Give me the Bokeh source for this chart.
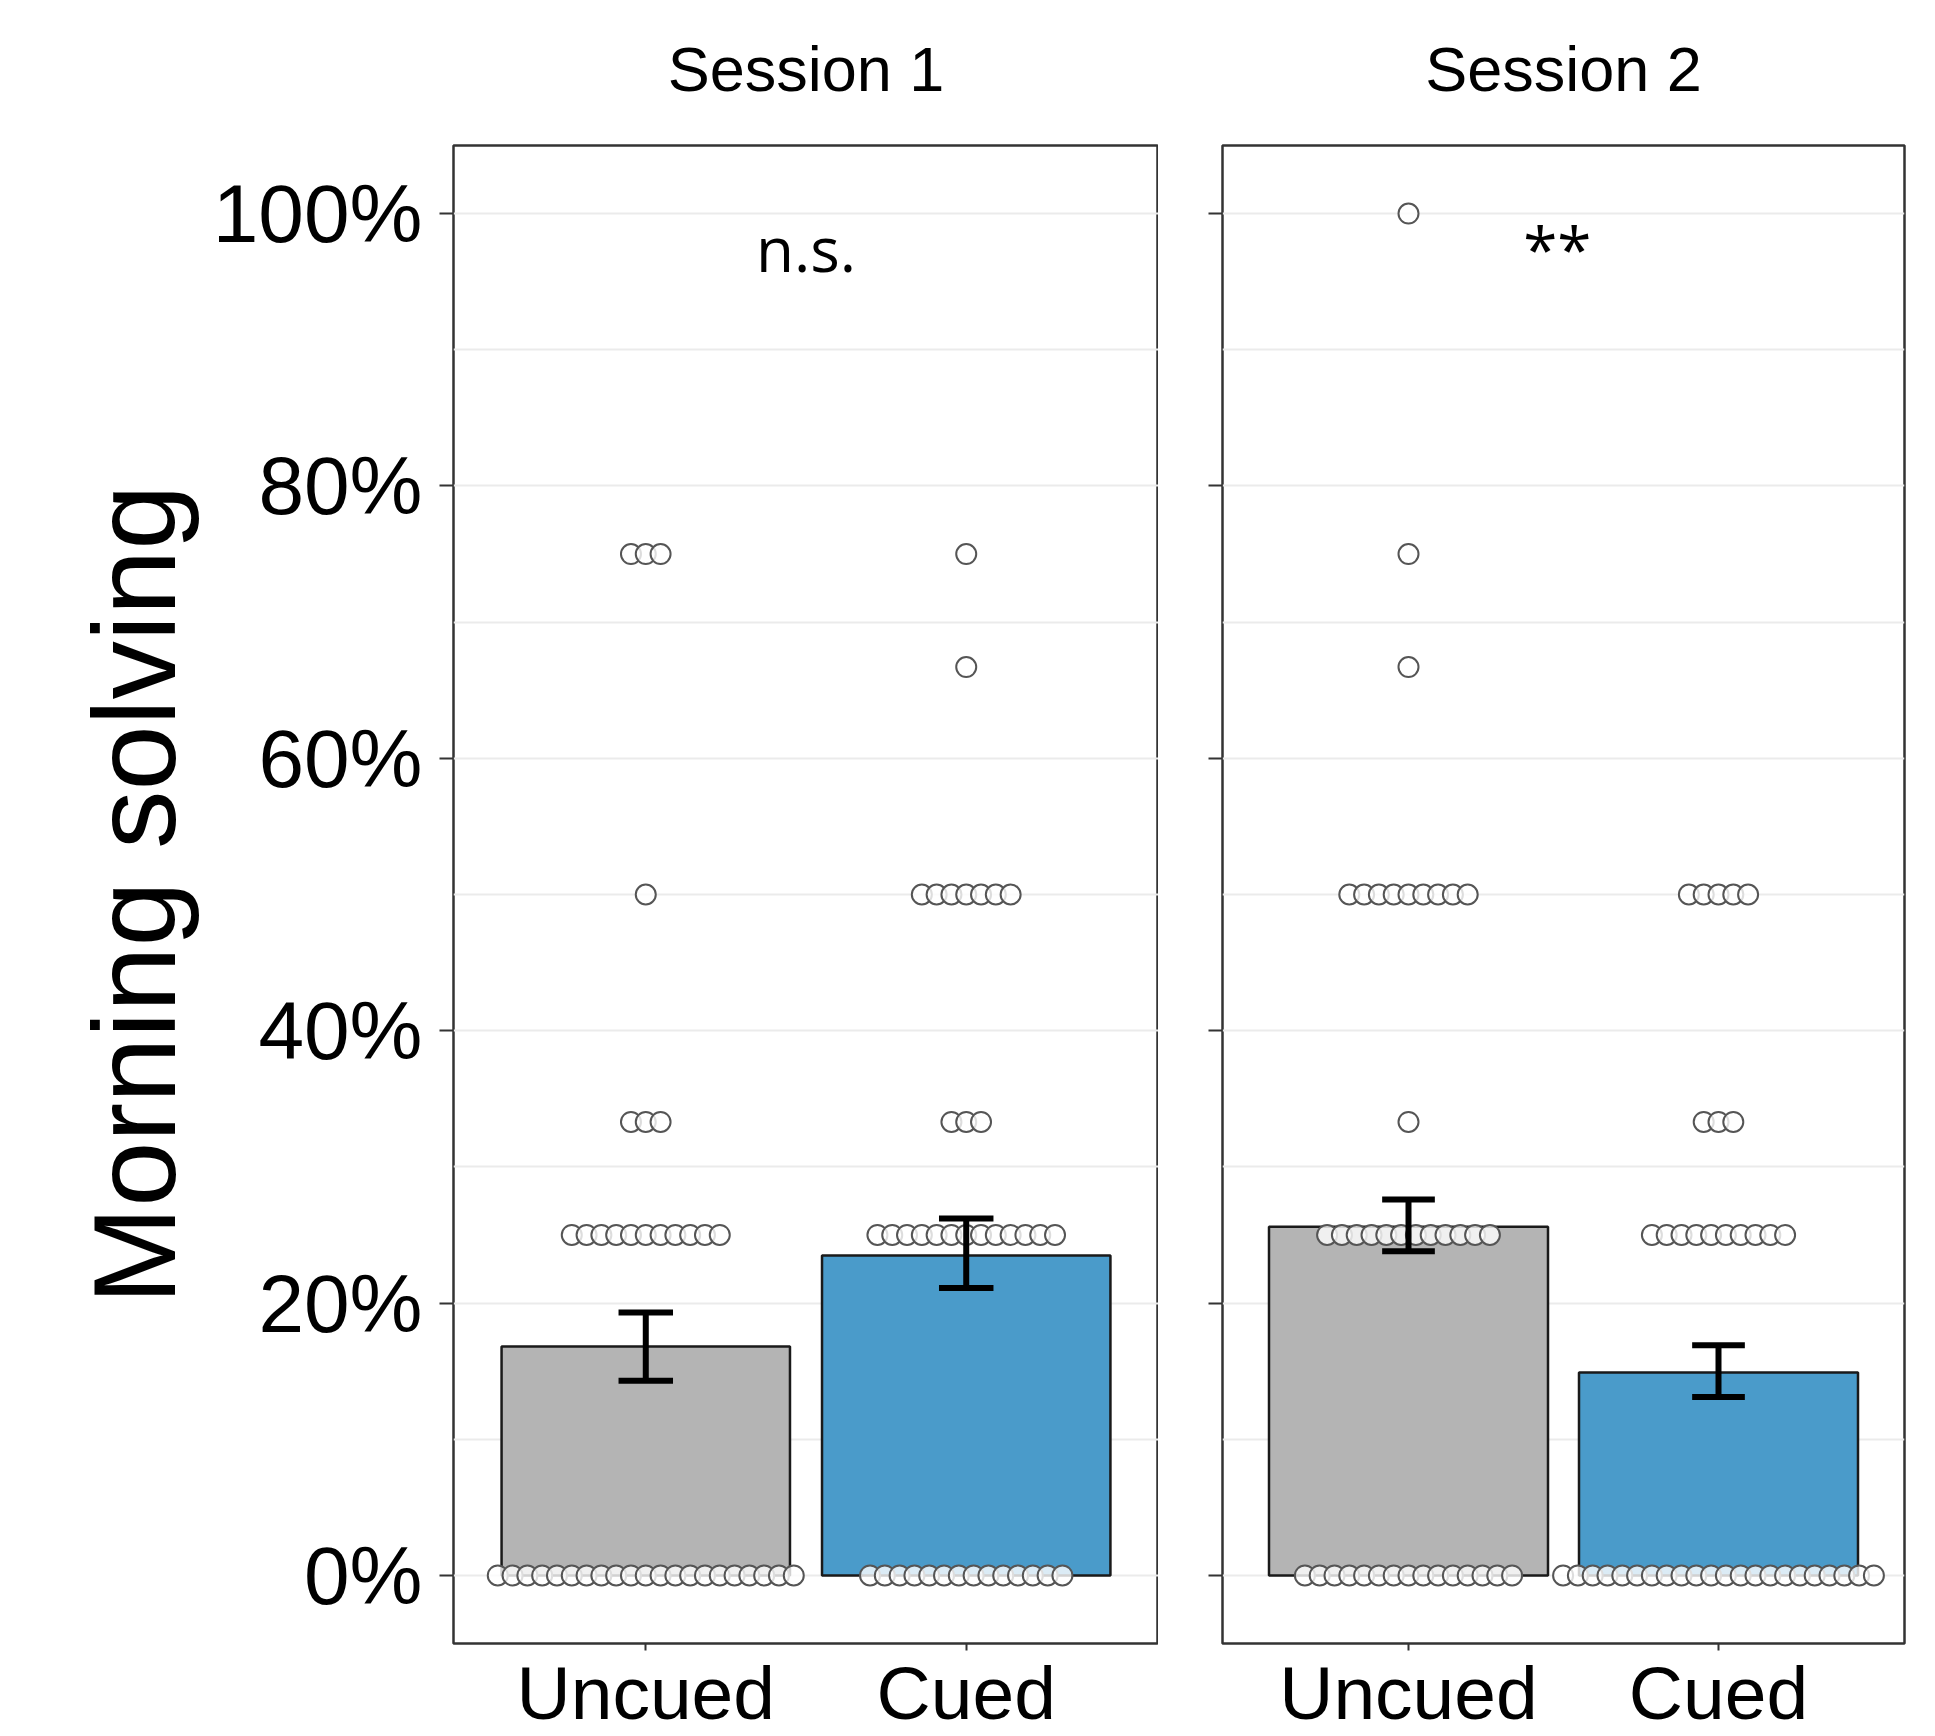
import numpy as np
from bokeh.plotting import figure
from bokeh.layouts import row
from bokeh.models import Range1d, FixedTicker, PrintfTickFormatter, LinearAxis
from bokeh.core.properties import value
from bokeh.embed import file_html
from bokeh.resources import INLINE

# ---------------- data ----------------
sessions = ["Session 1", "Session 2"]
conditions = ["Uncued", "Cued"]
annotations = ["n.s.", "**"]
y_title = "Morning solving"

# bar heights (%) and error-bar ends (%)
s1_means = [16.8, 23.5]
s1_err_low = [14.3, 21.1]
s1_err_high = [19.3, 26.2]
s2_means = [25.6, 14.9]
s2_err_low = [23.8, 13.1]
s2_err_high = [27.6, 16.9]

# individual participants: number of dots at each level
dot_levels = [0, 25, 33.3, 50, 66.7, 75, 100]
s1_uncued_counts = [21, 11, 3, 1, 0, 3, 0]
s1_cued_counts = [14, 13, 3, 7, 1, 1, 0]
s2_uncued_counts = [15, 12, 1, 9, 1, 1, 1]
s2_cued_counts = [22, 10, 3, 5, 0, 0, 0]

y_ticks = [0, 20, 40, 60, 80, 100]
y_minor = [10, 30, 50, 70, 90]

# ---------------- styling ----------------
FONT = "Liberation Sans"
BAR_COLORS = ["#b4b4b4", "#4a9bca"]
GRID = "#ebebeb"
X_START, X_END = 0.4, 2.6
Y_START, Y_END = -5, 105
FRAME_H = 1498
DOT_STEP_PX = 14.8
DOT_SIZE = 20
NOTE_Y = 97.5


def make_panel(title, means, lo, hi, counts_list, note, note_x, frame_w, left_b, right_b, first):
    p = figure(frame_width=frame_w, frame_height=FRAME_H,
               x_range=Range1d(X_START, X_END), y_range=Range1d(Y_START, Y_END),
               output_backend="svg", toolbar_location=None,
               min_border_left=left_b, min_border_right=right_b,
               min_border_top=145, min_border_bottom=0,
               background_fill_color="white", border_fill_color="white")

    xs = [i + 1 for i in range(len(conditions))]
    mid = sum(xs) / len(xs)

    # facet strip title as an axis above the panel
    top_ax = LinearAxis(ticker=FixedTicker(ticks=[mid]),
                        major_label_overrides={mid: title})
    top_ax.major_label_text_font = FONT
    top_ax.major_label_text_font_size = "63px"
    top_ax.major_label_text_color = "black"
    top_ax.major_label_standoff = 42
    top_ax.major_tick_line_color = None
    top_ax.minor_tick_line_color = None
    top_ax.axis_line_color = None
    top_ax.major_tick_out = 0
    top_ax.major_tick_in = 0
    p.add_layout(top_ax, "above")

    p.vbar(x=xs, top=means, bottom=0, width=0.9, fill_color=BAR_COLORS,
           line_color="#1a1a1a", line_width=2.5)

    px_per_unit = frame_w / (X_END - X_START)
    dx, dy = [], []
    for xi, counts in zip(xs, counts_list):
        for lvl, n in zip(dot_levels, counts):
            for k in range(n):
                dx.append(xi + (k - (n - 1) / 2) * DOT_STEP_PX / px_per_unit)
                dy.append(lvl)
    p.scatter(dx, dy, marker="circle", size=DOT_SIZE, fill_color="white",
              fill_alpha=0.8, line_color="#555555", line_width=2)

    cap = 0.085
    p.segment(x0=xs, y0=lo, x1=xs, y1=hi, line_color="black", line_width=6)
    p.segment(x0=[x - cap for x in xs], y0=lo, x1=[x + cap for x in xs], y1=lo,
              line_color="black", line_width=6)
    p.segment(x0=[x - cap for x in xs], y0=hi, x1=[x + cap for x in xs], y1=hi,
              line_color="black", line_width=6)

    p.text(x=[note_x], y=[NOTE_Y], text=[note], text_font=value("Open Sans"),
           text_font_size="62px", text_align="center", text_baseline="alphabetic",
           text_color="black")

    # axes
    xax = p.below[0]
    xax.ticker = FixedTicker(ticks=xs)
    xax.major_label_overrides = {x: c for x, c in zip(xs, conditions)}
    xax.major_label_text_font = FONT
    xax.major_label_text_font_size = "75px"
    xax.major_label_text_color = "black"
    xax.major_label_standoff = 0
    xax.major_tick_out = 7
    xax.major_tick_in = 0
    xax.major_tick_line_color = "#333333"
    xax.major_tick_line_width = 2
    xax.minor_tick_line_color = None
    xax.axis_line_color = None

    p.yaxis.ticker = FixedTicker(ticks=y_ticks, minor_ticks=y_minor)
    p.yaxis.formatter = PrintfTickFormatter(format="%d%%")
    p.yaxis.major_tick_out = 14
    p.yaxis.major_tick_in = 0
    p.yaxis.major_tick_line_color = "#333333"
    p.yaxis.major_tick_line_width = 2
    p.yaxis.minor_tick_line_color = None
    p.yaxis.axis_line_color = None
    if first:
        p.yaxis.major_label_text_font = FONT
        p.yaxis.major_label_text_font_size = "82px"
        p.yaxis.major_label_text_color = "black"
        p.yaxis.major_label_standoff = 17
        p.yaxis.axis_label = y_title
        p.yaxis.axis_label_text_font = FONT
        p.yaxis.axis_label_text_font_size = "117px"
        p.yaxis.axis_label_text_font_style = "normal"
        p.yaxis.axis_label_text_color = "black"
        p.yaxis.axis_label_standoff = 10
    else:
        p.yaxis.major_label_overrides = {t: "" for t in y_ticks}
        p.yaxis.major_label_standoff = 0

    p.xgrid.visible = False
    p.ygrid.grid_line_color = GRID
    p.ygrid.grid_line_width = 2
    p.ygrid.minor_grid_line_color = GRID
    p.ygrid.minor_grid_line_width = 2

    p.outline_line_color = "#333333"
    p.outline_line_width = 2.5
    return p


p1 = make_panel(sessions[0], s1_means, s1_err_low, s1_err_high,
                [s1_uncued_counts, s1_cued_counts], annotations[0], 1.5,
                705, 453, 0, True)
p2 = make_panel(sessions[1], s2_means, s2_err_low, s2_err_high,
                [s2_uncued_counts, s2_cued_counts], annotations[1], 1.48,
                682, 64, 10, False)

layout = row(p1, p2)
open("out.html", "w").write(file_html(layout, INLINE))
